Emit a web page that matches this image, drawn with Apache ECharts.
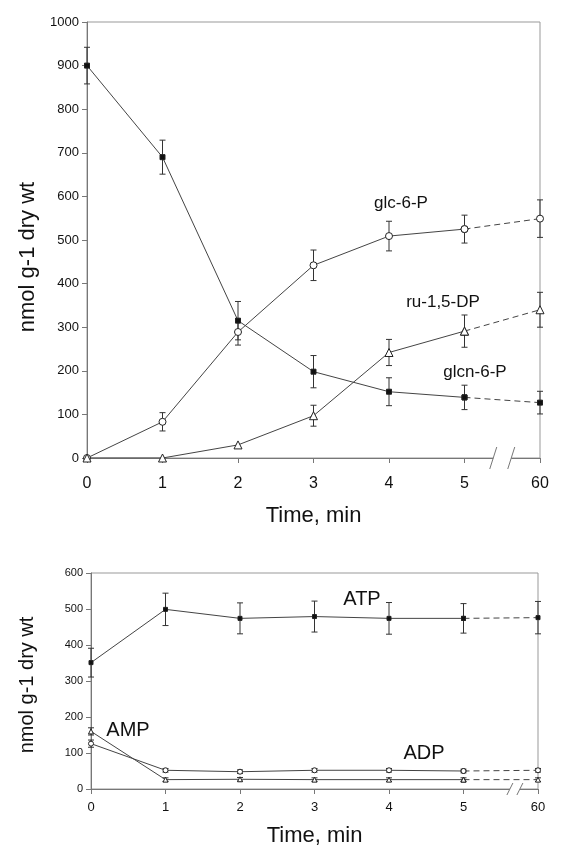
<!DOCTYPE html>
<html>
<head>
<meta charset="utf-8">
<script src="https://cdn.jsdelivr.net/npm/echarts@6/dist/echarts.min.js"></script>
<style>
html,body{margin:0;padding:0;background:#fff;}
#c{width:563px;height:860px;}
</style>
</head>
<body>
<div id="c"></div>
<script>
// ---- data ----
var times = ['0', '1', '2', '3', '4', '5', '60'];

// top panel
var glcn6P    = [900, 690, 315, 198, 152, 139, 127];
var glcn6PErr = [42, 39, 44, 37, 32, 28, 26];
var glc6P     = [0, 83, 289, 442, 509, 525, 549];
var glc6PErr  = [0, 21, 30, 35, 34, 32, 43];
var ru15DP    = [0, 0, 30, 97, 242, 291, 340];
var ru15DPErr = [0, 0, 0, 24, 30, 37, 40];
var topTicks  = [0, 100, 200, 300, 400, 500, 600, 700, 800, 900, 1000];

// bottom panel
var ATP    = [351, 499, 474, 479, 474, 474, 476];
var ATPErr = [40, 45, 43, 43, 44, 41, 45];
var ADP    = [126, 52, 48, 52, 52, 50, 52];
var ADPErr = [10, 5, 5, 5, 5, 5, 5];
var AMP    = [160, 26, 27, 26, 26, 26, 26];
var AMPErr = [10, 5, 5, 5, 5, 5, 5];
var botTicks = [0, 100, 200, 300, 400, 500, 600];

// ---- helpers ----
var LINE = '#444';
function solidPart(v) { return v.map(function (d, i) { return i <= 5 ? d : '-'; }); }
function dashPart(v) { return v.map(function (d, i) { return i >= 5 ? d : '-'; }); }
function errData(v, e) {
  var out = [];
  v.forEach(function (d, i) { if (e[i] > 0) out.push([i, d - e[i], d + e[i]]); });
  return out;
}
function lineSeries(name, vals, gi, sym, size, fill) {
  var common = {
    type: 'line', xAxisIndex: gi, yAxisIndex: gi,
    symbol: sym, symbolSize: size, showAllSymbol: true,
    itemStyle: { color: fill, borderColor: '#222', borderWidth: 1 },
    z: 3, animation: false, silent: true
  };
  return [
    Object.assign({ name: name, data: solidPart(vals), lineStyle: { color: LINE, width: 1 } }, common),
    Object.assign({ name: name + ' (60)', data: dashPart(vals), lineStyle: { color: LINE, width: 1, type: [6, 4] } }, common)
  ];
}
function errSeries(vals, errs, gi) {
  return {
    type: 'custom', xAxisIndex: gi, yAxisIndex: gi, z: 2, silent: true, animation: false,
    data: errData(vals, errs),
    renderItem: function (params, api) {
      var lo = api.coord([api.value(0), api.value(1)]);
      var hi = api.coord([api.value(0), api.value(2)]);
      var w = 3;
      var st = { stroke: '#333', lineWidth: 1 };
      return { type: 'group', children: [
        { type: 'line', shape: { x1: lo[0], y1: lo[1], x2: hi[0], y2: hi[1] }, style: st },
        { type: 'line', shape: { x1: lo[0] - w, y1: lo[1], x2: lo[0] + w, y2: lo[1] }, style: st },
        { type: 'line', shape: { x1: hi[0] - w, y1: hi[1], x2: hi[0] + w, y2: hi[1] }, style: st }
      ]};
    }
  };
}

var font = 'Arial, "Liberation Sans", sans-serif';
var chart = echarts.init(document.getElementById('c'), null, { renderer: 'canvas' });

var series = [].concat(
  errSeries(glcn6P, glcn6PErr, 0), errSeries(glc6P, glc6PErr, 0), errSeries(ru15DP, ru15DPErr, 0),
  lineSeries('glcn-6-P', glcn6P, 0, 'rect', 5, '#111'),
  lineSeries('glc-6-P', glc6P, 0, 'circle', 7, '#fff'),
  lineSeries('ru-1,5-DP', ru15DP, 0, 'triangle', 8, '#fff'),
  errSeries(ATP, ATPErr, 1), errSeries(ADP, ADPErr, 1), errSeries(AMP, AMPErr, 1),
  lineSeries('ATP', ATP, 1, 'rect', 4, '#111'),
  lineSeries('ADP', ADP, 1, 'circle', 5, '#fff'),
  lineSeries('AMP', AMP, 1, 'triangle', 5, '#fff')
);

function xAxisCfg(gi, fs, margin, nameGap) {
  return {
    type: 'category', gridIndex: gi, data: times, boundaryGap: false,
    axisLine: { lineStyle: { color: '#777', width: 1 } },
    axisTick: { show: true, inside: false, length: 5, alignWithLabel: true, lineStyle: { color: '#777' } },
    axisLabel: { interval: 0, color: '#111', fontSize: fs, fontFamily: font, margin: margin },
    splitLine: { show: false },
    name: 'Time, min', nameLocation: 'middle', nameGap: nameGap,
    nameTextStyle: { color: '#111', fontSize: 22, fontFamily: font }
  };
}
function yAxisCfg(gi, ticks, fs) {
  return {
    type: 'value', gridIndex: gi, min: ticks[0], max: ticks[ticks.length - 1],
    interval: ticks[1] - ticks[0],
    axisLine: { show: true, lineStyle: { color: '#777', width: 1 } },
    axisTick: { show: true, inside: false, length: 5, lineStyle: { color: '#777' } },
    axisLabel: { color: '#111', fontSize: fs, fontFamily: font, margin: 8,
      formatter: function (v) { return String(v); } },
    splitLine: { show: false }
  };
}

chart.setOption({
  animation: false,
  backgroundColor: '#fff',
  grid: [
    { left: 87, right: 23, top: 22, bottom: 402, show: true, borderColor: '#999', borderWidth: 1, backgroundColor: 'transparent' },
    { left: 91, right: 25, top: 573, bottom: 71, show: true, borderColor: '#999', borderWidth: 1, backgroundColor: 'transparent' }
  ],
  xAxis: [xAxisCfg(0, 16, 18, 47), xAxisCfg(1, 13, 12, 36)],
  yAxis: [yAxisCfg(0, topTicks, 13), yAxisCfg(1, botTicks, 11)],
  series: series
});

// ---- annotations, axis titles, axis breaks ----
function px(gi, idx, val) { return chart.convertToPixel({ gridIndex: gi }, [idx, val]); }
function breakMark(gi, frac, dx, dy, gapHalf) {
  var a = px(gi, 5, 0), b = px(gi, 6, 0);
  var c = a[0] + (b[0] - a[0]) * frac, y = a[1];
  var st = { stroke: '#777', lineWidth: 1 };
  return [
    { type: 'rect', shape: { x: c - gapHalf, y: y - 2, width: gapHalf * 2, height: 4 }, style: { fill: '#fff' }, z: 10 },
    { type: 'line', shape: { x1: c - gapHalf - dx / 2, y1: y + dy, x2: c - gapHalf + dx / 2, y2: y - dy }, style: st, z: 11 },
    { type: 'line', shape: { x1: c + gapHalf - dx / 2, y1: y + dy, x2: c + gapHalf + dx / 2, y2: y - dy }, style: st, z: 11 }
  ];
}
function txt(s, x, y, fs, rot) {
  return { type: 'text', x: x, y: y, rotation: rot || 0, z: 12,
    style: { text: s, fill: '#111', font: fs + 'px ' + font, align: 'center', verticalAlign: 'middle' } };
}
var g = [].concat(
  breakMark(0, 0.5, 7, 11, 9),
  breakMark(1, 0.69, 6, 6, 5),
  [
    txt('nmol g-1 dry wt', 28, 257, 22, Math.PI / 2),
    txt('nmol g-1 dry wt', 27, 685, 20, Math.PI / 2),
    txt('glc-6-P', 401, 203, 17),
    txt('ru-1,5-DP', 443, 302, 17),
    txt('glcn-6-P', 475, 372, 17),
    txt('ATP', 362, 599, 20),
    txt('AMP', 128, 730, 20),
    txt('ADP', 424, 753, 20)
  ]
);
chart.setOption({ graphic: g });
</script>
</body>
</html>
